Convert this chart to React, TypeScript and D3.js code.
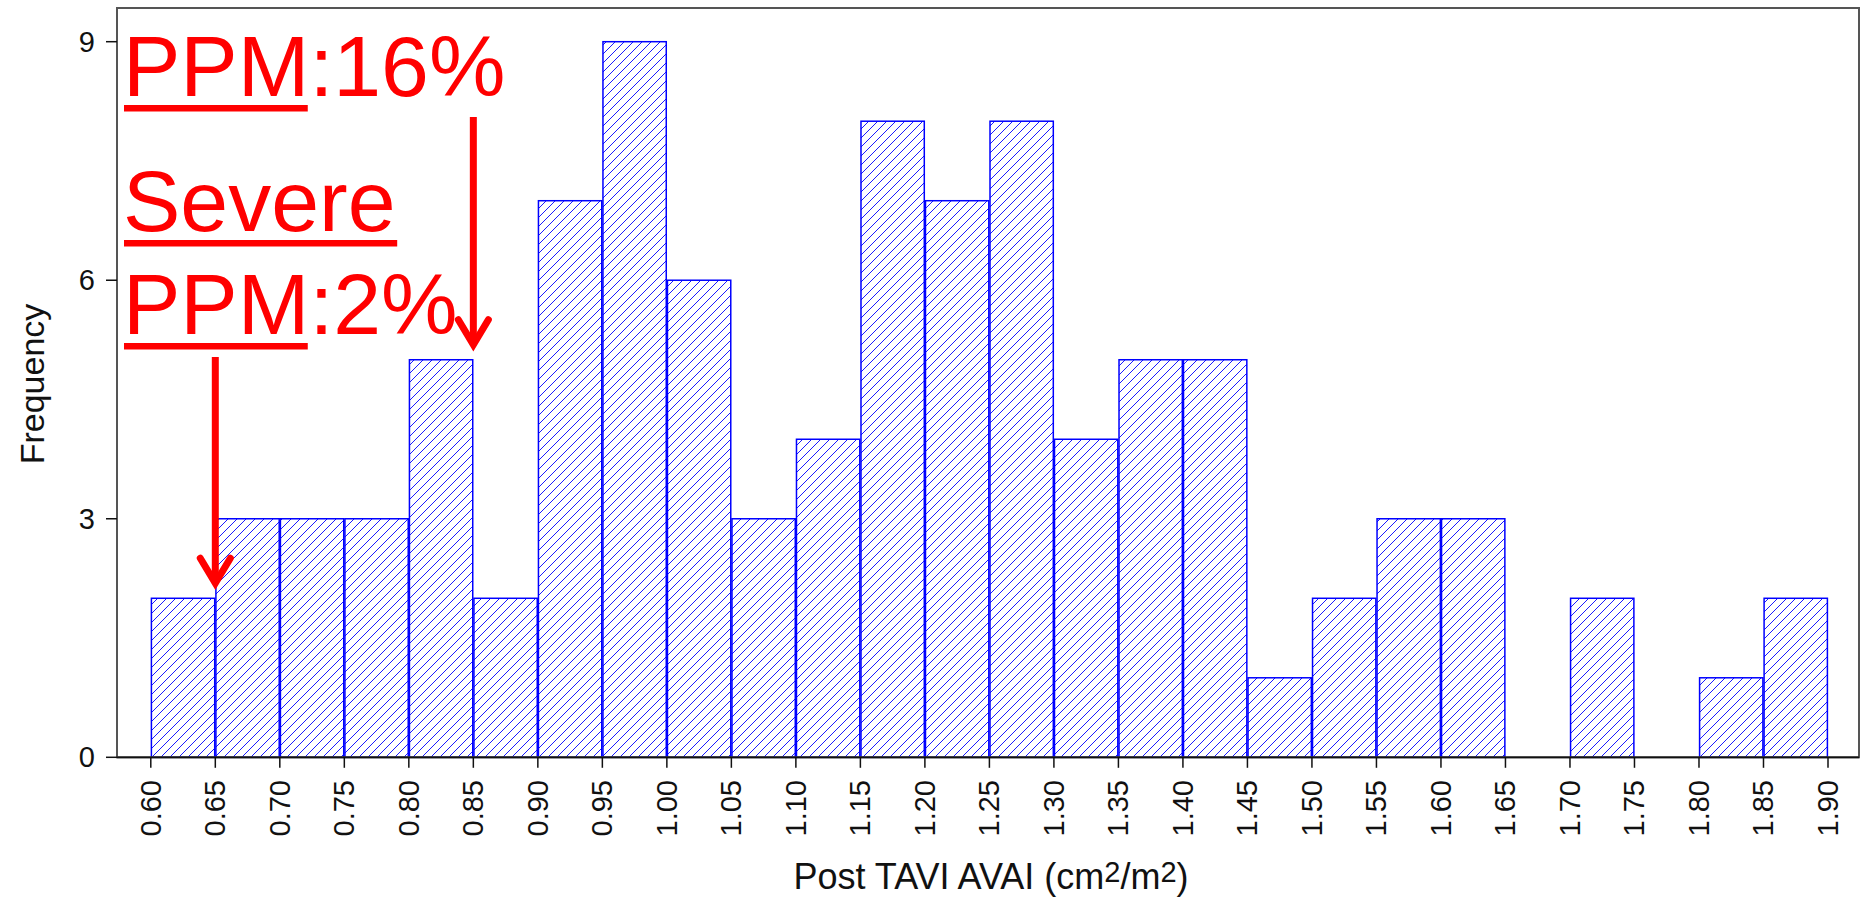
import React from 'react';
import * as d3 from 'd3';

// ---- data ----
const binEdges = [0.60, 0.65, 0.70, 0.75, 0.80, 0.85, 0.90, 0.95, 1.00, 1.05, 1.10, 1.15, 1.20, 1.25, 1.30, 1.35, 1.40, 1.45, 1.50, 1.55, 1.60, 1.65, 1.70, 1.75, 1.80, 1.85, 1.90];
const counts = [2, 3, 3, 3, 5, 2, 7, 9, 6, 3, 4, 8, 7, 8, 4, 5, 5, 1, 2, 3, 3, 0, 2, 0, 1, 2];
const yTicks = [0, 3, 6, 9];
const xTickLabels = ['0.60', '0.65', '0.70', '0.75', '0.80', '0.85', '0.90', '0.95', '1.00', '1.05', '1.10', '1.15', '1.20', '1.25', '1.30', '1.35', '1.40', '1.45', '1.50', '1.55', '1.60', '1.65', '1.70', '1.75', '1.80', '1.85', '1.90'];
const yTitle = 'Frequency';
const annotationLines = [
  { under: 'PPM', rest: ':16%' },
  { under: 'Severe', rest: '' },
  { under: 'PPM', rest: ':2%' },
];
const arrowTargets = [0.85, 0.65];
const arrowTargetCounts = [5, 2];

const FONT = '"Liberation Sans", Arial, Helvetica, sans-serif';
const BLUE = '#0000ff';
const RED = '#ff0000';

export default function App() {
  const W = 1864, H = 900;
  const frame = { left: 117, right: 1859, top: 8, bottom: 757.3 };
  const x = d3.scaleLinear().domain([0.60, 1.90]).range([150.8, 1828]);
  const y = d3.scaleLinear().domain([0, 9]).range([757.3, 41.7]);

  const bars = counts.map((c, i) => ({ x0: binEdges[i], x1: binEdges[i + 1], c }));

  const annFont = 86;
  const annX = 123;
  const baselines = [96, 231, 334];
  const underWidthEm: Record<string, number> = { PPM: 2.16, Severe: 3.2 };

  // arrows: start just below the underline of lines 1 and 3
  const arrowStarts = [117, 357];

  return (
    <div style={{ position: 'absolute', left: 0, top: 0 }}>
      <svg width={W} height={H} style={{ display: 'block', background: '#fff' }} fontFamily={FONT}>
        <defs>
          <pattern id="hatch" patternUnits="userSpaceOnUse" width={9} height={9}>
            <path d="M0,9 L9,0 M-2,2 L2,-2 M7,11 L11,7" stroke={BLUE} strokeWidth={0.9} />
          </pattern>
        </defs>
        <rect x={0} y={0} width={W} height={H} fill="#fff" />

        {/* bars */}
        {bars.filter(b => b.c > 0).map((b, i) => {
          const xa = x(b.x0), xb = x(b.x1);
          return (
            <rect key={i} x={xa + 0.6} y={y(b.c)} width={xb - xa - 1.2} height={y(0) - y(b.c)}
              fill="url(#hatch)" stroke={BLUE} strokeWidth={1.5} />
          );
        })}

        {/* frame */}
        <rect x={frame.left} y={frame.top} width={frame.right - frame.left} height={frame.bottom - frame.top}
          fill="none" stroke="#555" strokeWidth={2} />
        <line x1={frame.left} x2={frame.right} y1={frame.bottom} y2={frame.bottom} stroke="#111" strokeWidth={1.8} />

        {/* y ticks */}
        {yTicks.map(t => (
          <g key={t}>
            <line x1={frame.left - 11} x2={frame.left} y1={y(t)} y2={y(t)} stroke="#111" strokeWidth={1.5} />
            <text x={95} y={y(t)} textAnchor="end" dominantBaseline="central" fontSize={29} fill="#111">{t}</text>
          </g>
        ))}

        {/* x ticks */}
        {binEdges.map((e, i) => (
          <g key={i}>
            <line x1={x(e)} x2={x(e)} y1={frame.bottom} y2={frame.bottom + 10.5} stroke="#111" strokeWidth={1.5} />
            <text transform={`translate(${x(e)},780) rotate(-90)`} textAnchor="end" dominantBaseline="central"
              fontSize={29} fill="#111">{xTickLabels[i]}</text>
          </g>
        ))}

        {/* axis titles */}
        <text x={44} y={384} transform="rotate(-90,44,384)" textAnchor="middle" fontSize={34} fill="#111">{yTitle}</text>
        <text x={991} y={889} textAnchor="middle" fontSize={36} fill="#111">
          Post TAVI AVAI (cm<tspan fontSize={29} dy={-7}>2</tspan><tspan dy={7}>/m</tspan><tspan fontSize={29} dy={-7}>2</tspan><tspan dy={7}>)</tspan>
        </text>

        {/* annotations */}
        {annotationLines.map((a, i) => (
          <g key={i}>
            <text x={annX} y={baselines[i]} fontSize={annFont} fill={RED}>{a.under}{a.rest}</text>
            <rect x={annX + 1} y={baselines[i] + 9} width={underWidthEm[a.under] * annFont - 2} height={6.5} fill={RED} />
          </g>
        ))}

        {/* arrows */}
        {arrowTargets.map((t, i) => {
          const ax = x(t);
          const tipV = y(arrowTargetCounts[i]) - 15;
          return (
            <g key={i} stroke={RED} strokeWidth={7} fill="none">
              <line x1={ax} x2={ax} y1={arrowStarts[i]} y2={tipV} />
              <polyline points={`${ax - 15},${tipV - 25} ${ax},${tipV} ${ax + 15},${tipV - 25}`}
                strokeLinejoin="miter" strokeLinecap="round" />
            </g>
          );
        })}
      </svg>
    </div>
  );
}
